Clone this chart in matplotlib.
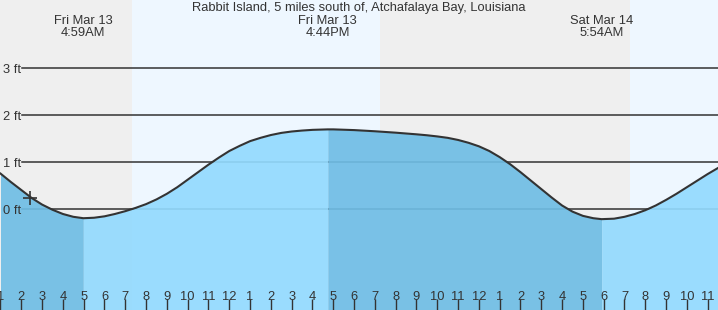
import numpy as np
import matplotlib
matplotlib.use('Agg')
import matplotlib.pyplot as plt

plt.rcParams['font.family'] = ['Liberation Sans', 'DejaVu Sans']

title = 'Rabbit Island, 5 miles south of, Atchafalaya Bay, Louisiana'

# hours since Fri 00:00, tide height in ft
hours = [1, 1.5, 2, 2.5, 3, 3.5, 4, 4.5, 4.983, 5.5, 6, 6.5, 7, 7.5, 8, 8.5,
         9, 9.5, 10, 10.5, 11, 11.5, 12, 12.5, 13, 13.5, 14, 14.5, 15, 15.5,
         16, 16.733, 17, 18, 19, 20, 21, 21.5, 22, 22.5, 23, 23.5, 24, 24.5,
         25, 25.5, 26, 26.5, 27, 27.5, 28, 28.5, 29, 29.5, 29.9, 30.5, 31,
         31.5, 32, 32.5, 33, 33.5, 34, 34.5, 35, 35.5]
height = [0.76, 0.58, 0.41, 0.24, 0.10, -0.01, -0.10, -0.16, -0.19, -0.18,
          -0.15, -0.10, -0.04, 0.03, 0.11, 0.21, 0.33, 0.47, 0.63, 0.79,
          0.95, 1.10, 1.24, 1.35, 1.45, 1.52, 1.58, 1.625, 1.655, 1.675,
          1.69, 1.70, 1.70, 1.685, 1.66, 1.63, 1.595, 1.575, 1.55, 1.52,
          1.475, 1.415, 1.34, 1.24, 1.11, 0.96, 0.79, 0.61, 0.43, 0.25,
          0.08, -0.05, -0.14, -0.19, -0.21, -0.20, -0.16, -0.10, -0.02,
          0.08, 0.20, 0.33, 0.47, 0.61, 0.75, 0.88]

# extremes labelled along the top
ext_hours = [4.983, 16.733, 29.9]
ext_labels = ['Fri Mar 13\n4:59AM', 'Fri Mar 13\n4:44PM', 'Sat Mar 14\n5:54AM']

# sunrise / sunset (hours)
night = [(0, 7.3), (19.25, 31.25)]
day = [(7.3, 19.25), (31.25, 40)]

now_hour = 2.42
now_height = 0.23

grid_ft = [0, 1, 2, 3]

xmin, xmax = 0.976, 0.976 + 718 / 20.8
ymin, ymax = -2.143, 4.453

fig = plt.figure(figsize=(7.18, 3.10), dpi=100)
ax = fig.add_axes([0, 0, 1, 1])
ax.set_xlim(xmin, xmax)
ax.set_ylim(ymin, ymax)
ax.set_axisbelow(False)

for a, b in night:
    ax.axvspan(a, b, color='#efefef', zorder=0, lw=0)
for a, b in day:
    ax.axvspan(a, b, color='#eef7ff', zorder=0, lw=0)

for g in grid_ft:
    ax.axhline(g, xmin=22 / 718, xmax=1, color='#333333', lw=1.1, zorder=1)
    ax.text(xmin + 3 / 20.8, g, '%d ft' % g, ha='left', va='center_baseline',
            fontsize=9.3, color='#333333', zorder=5)

t = np.array(hours)
h = np.array(height)
bounds = [t[0]] + ext_hours + [t[-1]]
cols = ['#6fbde5', '#93dafe', '#6fbde5', '#93dafe']
for i in range(len(bounds) - 1):
    m = (t >= bounds[i]) & (t <= bounds[i + 1])
    ax.fill_between(t[m], ymin, h[m], color=cols[i], alpha=0.92, lw=0, zorder=2)

ax.plot(t, h, color='#333333', lw=1.5, zorder=3)
ax.plot([now_hour], [now_height], marker='+', ms=10, mew=1.2, color='#333333', zorder=4)

ax.text((xmin + xmax) / 2, ymax - 0.17, title, ha='center', va='center',
        fontsize=9.3, color='#333333')
for x, lab in zip(ext_hours, ext_labels):
    ax.text(x, ymax - 0.32, lab, ha='center', va='top', fontsize=9.3,
            color='#333333', linespacing=0.95)

tick_hours = list(range(1, 36))
ax.set_xticks(tick_hours)
ax.set_xticklabels([str((k - 1) % 12 + 1) for k in tick_hours])
ax.set_xticks([24], minor=True)
ax.tick_params(axis='x', which='major', direction='in', length=8, width=1,
               color='#333333', labelcolor='#333333', labelsize=9.3, pad=-13.5)
ax.tick_params(axis='x', which='minor', direction='in', length=8, width=3,
               color='#333333')
ax.set_yticks([])
for s in ax.spines.values():
    s.set_visible(False)

fig.savefig('out.png', dpi=100)
